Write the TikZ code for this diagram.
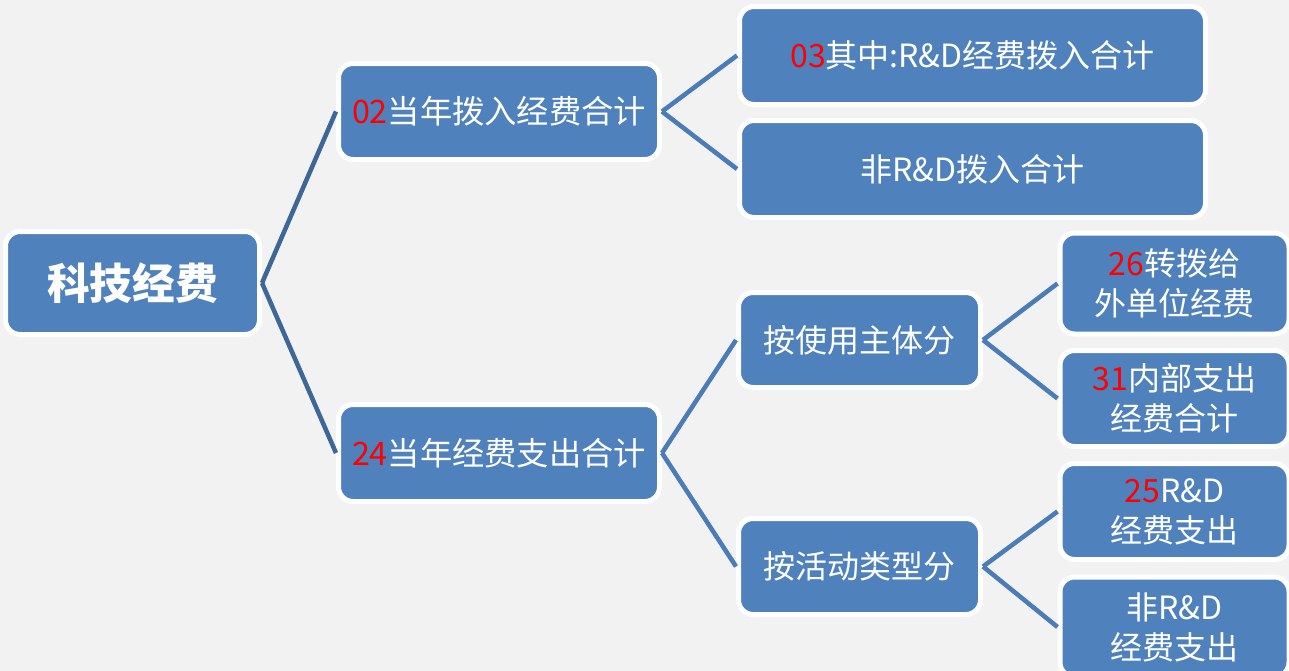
\documentclass[tikz,border=0pt]{standalone}
\usepackage{fontspec}
\setmainfont{Noto Sans CJK SC}
\definecolor{bgc}{HTML}{F2F2F2}
\definecolor{boxc}{HTML}{4F81BD}
\definecolor{rootln}{HTML}{3D6798}
\definecolor{ln}{HTML}{4A7CB8}
\definecolor{numc}{HTML}{FF0000}
\newcommand{\num}[1]{\textcolor{numc}{#1}}
\tikzset{
  box/.style={draw=white, line width=3.75pt, fill=boxc, rounded corners=11pt,
    text=white, align=center, inner sep=0pt, font=\fontsize{24pt}{30pt}\selectfont},
  midbox/.style={box, font=\fontsize{24.2pt}{30pt}\selectfont},
  rootbox/.style={box, font=\fontsize{32pt}{38pt}\selectfont\bfseries},
  rootlink/.style={draw=rootln, line width=3.4pt},
  link/.style={draw=ln, line width=3.4pt}
}
\begin{document}
\begin{tikzpicture}[x=0.75pt, y=-0.75pt]
\fill[bgc] (0,0) rectangle (1289,671);
\useasboundingbox (0,0) rectangle (1289,671);
\begin{scope}
\clip (0,0) rectangle (1289,671);
\node[rootbox, minimum width=254*0.75pt, minimum height=103*0.75pt] (root) at (132.5,283) {科技经费};
\node[midbox, minimum width=321*0.75pt, minimum height=96*0.75pt] (n02) at (499,111.5) {\num{02}当年拨入经费合计};
\node[midbox, minimum width=321*0.75pt, minimum height=97*0.75pt] (n24) at (499,453) {\num{24}当年经费支出合计};
\node[box, minimum width=466*0.75pt, minimum height=98*0.75pt] (n03) at (972.5,55.5) {\num{03}其中:R\&D经费拨入合计};
\node[box, minimum width=466*0.75pt, minimum height=97*0.75pt] (nfr) at (972.5,169) {非R\&D拨入合计};
\node[box, minimum width=242*0.75pt, minimum height=95*0.75pt] (nuse) at (859.5,340) {按使用主体分};
\node[box, minimum width=242*0.75pt, minimum height=96*0.75pt] (nact) at (859.5,566.5) {按活动类型分};
\node[box, minimum width=229*0.75pt, minimum height=101*0.75pt] (n26) at (1174.5,283.5) {\num{26}转拨给\\外单位经费};
\node[box, minimum width=229*0.75pt, minimum height=96*0.75pt] (n31) at (1174.5,398.5) {\num{31}内部支出\\经费合计};
\node[box, minimum width=229*0.75pt, minimum height=96*0.75pt] (n25) at (1174.5,511.5) {\num{25}R\&D\\经费支出};
\node[box, minimum width=229*0.75pt, minimum height=100*0.75pt] (nfe) at (1174.5,627) {非R\&D\\经费支出};
\end{scope}
\draw[rootlink] (root.east) -- (n02.west);
\draw[rootlink] (root.east) -- (n24.west);
\draw[link] (n02.east) -- (n03.west);
\draw[link] (n02.east) -- (nfr.west);
\draw[link] (n24.east) -- (nuse.west);
\draw[link] (n24.east) -- (nact.west);
\draw[link] (nuse.east) -- (n26.west);
\draw[link] (nuse.east) -- (n31.west);
\draw[link] (nact.east) -- (n25.west);
\draw[link] (nact.east) -- (nfe.west);
\end{tikzpicture}
\end{document}
